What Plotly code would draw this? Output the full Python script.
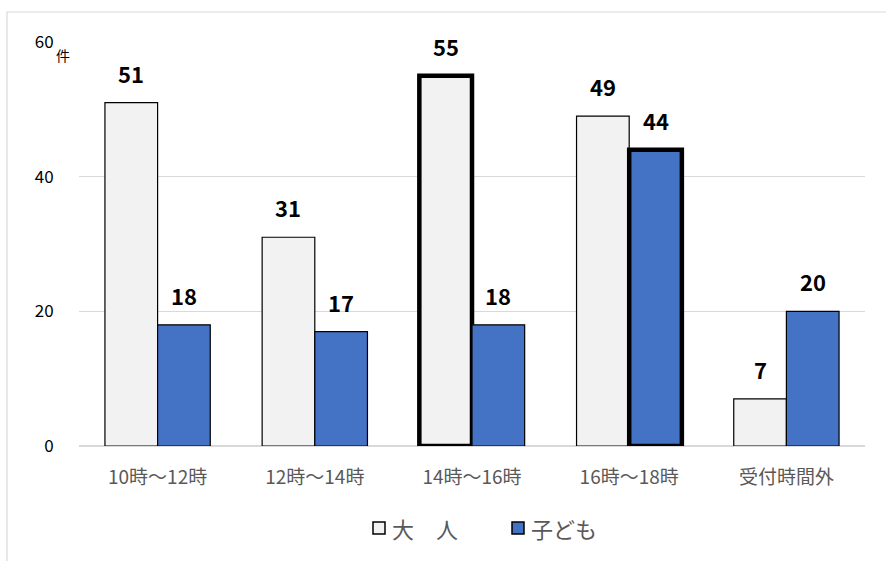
import plotly.graph_objects as go

# Reception counts by time slot
categories = ["10時～12時", "12時～14時", "14時～16時", "16時～18時", "受付時間外"]
adults = [51, 31, 55, 49, 7]
children = [18, 17, 18, 44, 20]
# Slots whose bar gets a heavy outline
adult_emphasis = [False, False, True, False, False]
child_emphasis = [False, False, False, True, False]
y_ticks = [0, 20, 40, 60]
series_names = ["大　人", "子ども"]
series_colors = ["#f2f2f2", "#4472c4"]

FONT = "Noto Sans CJK JP, Noto Sans, sans-serif"
W, H = 886, 561
L, R, T, B = 79, 21, 42, 115
PW, PH = W - L - R, H - T - B


def px_x(x):
    return (x - L) / PW


def px_y(y):
    return (H - B - y) / PH


def line_widths(flags):
    return [4.5 if f else 1.2 for f in flags]


fig = go.Figure()
for name, color, vals, flags in ((series_names[0], series_colors[0], adults, adult_emphasis),
                                 (series_names[1], series_colors[1], children, child_emphasis)):
    fig.add_trace(go.Bar(
        name=name, x=categories, y=vals, showlegend=False,
        marker=dict(color=color, line=dict(color="#000000", width=line_widths(flags))),
    ))

# Value labels above each bar
half = (1 - 0.33) / 2 * PW / len(categories) / 2
annotations = []
for series, shift in ((adults, -half), (children, half)):
    for c, v in zip(categories, series):
        annotations.append(dict(
            x=c, y=v, xref="x", yref="y", text=str(v), showarrow=False,
            xshift=shift, yshift=12, yanchor="bottom",
            font=dict(family=FONT, size=22, color="#000000", weight="bold"),
        ))

# Unit label next to the top tick
annotations.append(dict(
    x=px_x(63), y=px_y(55), xref="paper", yref="paper", text="件", showarrow=False,
    xanchor="center", yanchor="middle",
    font=dict(family=FONT, size=14, color="#000000"),
))

# Legend drawn as boxed swatches plus labels
shapes = []
legend_y = 528
for (sx, tx), name, color in zip(((373, 390), (512, 529)), series_names, series_colors):
    shapes.append(dict(
        type="rect", xref="paper", yref="paper",
        x0=px_x(sx), x1=px_x(sx + 12), y0=px_y(legend_y + 6), y1=px_y(legend_y - 6),
        line=dict(color="#000000", width=1.5), fillcolor=color,
    ))
    annotations.append(dict(
        x=px_x(tx), y=px_y(legend_y), xref="paper", yref="paper",
        xanchor="left", yanchor="middle", text=name, showarrow=False,
        font=dict(family=FONT, size=22, color="#595959"),
    ))

# Light outer frame
shapes.append(dict(
    type="rect", xref="paper", yref="paper", layer="below",
    x0=px_x(7), x1=px_x(W + 20), y0=px_y(H + 20), y1=px_y(12),
    line=dict(color="#d9d9d9", width=1.2), fillcolor="rgba(0,0,0,0)",
))

fig.update_layout(
    width=W, height=H,
    margin=dict(l=L, r=R, t=T, b=B),
    paper_bgcolor="white", plot_bgcolor="white",
    barmode="group", bargap=0.33, bargroupgap=0,
    font=dict(family=FONT),
    showlegend=False,
    annotations=annotations,
    shapes=shapes,
    xaxis=dict(
        showgrid=False, showline=False, zeroline=False,
        ticks="outside", ticklen=14, tickcolor="rgba(0,0,0,0)",
        tickfont=dict(family=FONT, size=19, color="#595959"),
    ),
    yaxis=dict(
        range=[0, 60], tickvals=y_ticks,
        showgrid=True, gridcolor="#d9d9d9", gridwidth=1.2,
        zeroline=True, zerolinecolor="#d9d9d9", zerolinewidth=1.5,
        showline=False,
        ticks="outside", ticklen=21, tickcolor="rgba(0,0,0,0)",
        tickfont=dict(family=FONT, size=17, color="#000000"),
    ),
)

fig.write_html("out.html")
